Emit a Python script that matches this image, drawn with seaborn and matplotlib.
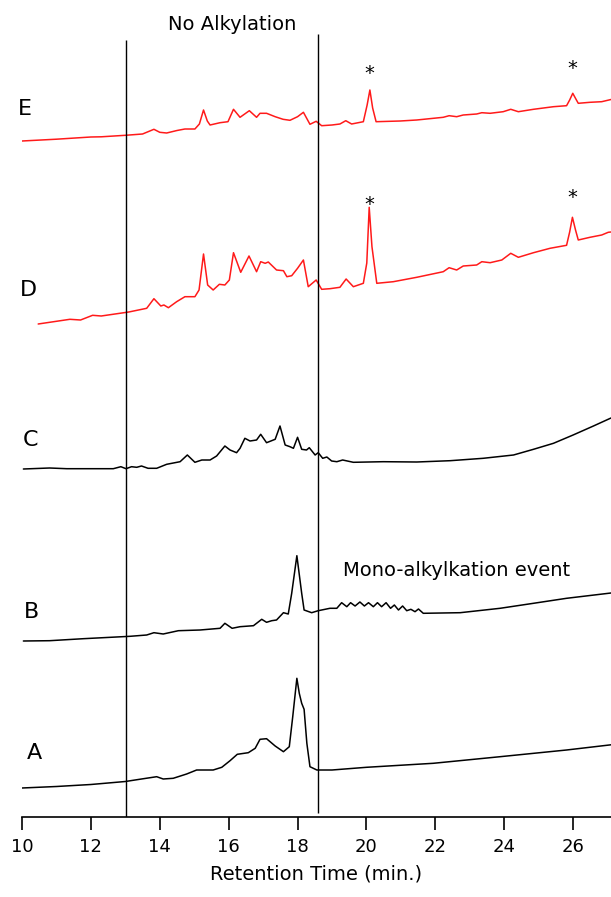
"""
HPLC traces A-E, stacked chromatograms
"""

import numpy as np
import pandas as pd
import matplotlib
matplotlib.use("Agg")
import matplotlib.pyplot as plt
import seaborn as sns

# retention times (min) and signal heights above each trace's own start level
time_E = [10.0, 11.0, 12.0, 12.3, 13.0, 13.5, 13.83, 14.0, 14.2, 14.5, 14.73, 15.02, 15.15, 15.27, 15.38,
          15.46, 15.75, 15.98, 16.14, 16.33, 16.6, 16.81, 16.91, 17.1, 17.35, 17.58, 17.78, 18.0, 18.17,
          18.36, 18.54, 18.7, 19.0, 19.23, 19.4, 19.57, 19.91, 20.02, 20.1, 20.18, 20.28, 20.98, 21.46,
          22.23, 22.4, 22.62, 22.81, 23.2, 23.35, 23.59, 23.97, 24.19, 24.41, 24.85, 25.43, 25.81, 25.9,
          25.99, 26.08, 26.15, 26.49, 26.83, 27.1]
signal_E = [0, 1.8, 4.0, 4.2, 5.7, 7.0, 11.7, 8.7, 8.0, 10.5, 12.0, 12.0, 17.0, 31.0, 20.0,
            16.0, 18.3, 19.3, 31.7, 23.7, 30.3, 23.7, 27.7, 27.7, 24.3, 21.7, 20.7, 24.3, 28.7,
            16.7, 19.7, 15.3, 16.0, 17.0, 20.3, 17.0, 19.3, 36.0, 51.0, 33.0, 19.3, 20.0, 21.0,
            23.7, 25.3, 24.3, 26.0, 27.0, 28.3, 27.7, 29.3, 31.7, 29.3, 31.7, 34.3, 35.3, 41.0,
            47.7, 42.0, 37.7, 38.7, 39.3, 41.5]

time_D = [10.47, 11.39, 11.7, 12.05, 12.3, 13.1, 13.62, 13.83, 14.03, 14.12, 14.25, 14.49, 14.73, 15.02,
          15.14, 15.27, 15.39, 15.55, 15.73, 15.89, 16.02, 16.14, 16.35, 16.59, 16.81, 16.93, 17.06,
          17.15, 17.39, 17.59, 17.69, 17.83, 18.0, 18.17, 18.31, 18.54, 18.7, 18.94, 19.23, 19.41,
          19.62, 19.91, 20.01, 20.08, 20.16, 20.3, 20.78, 21.46, 22.23, 22.4, 22.62, 22.81, 23.2,
          23.35, 23.59, 23.93, 24.19, 24.41, 24.85, 25.33, 25.81, 25.9, 25.98, 26.07, 26.15, 26.49,
          26.83, 27.02, 27.1]
signal_D = [0, 4.7, 4.0, 8.7, 8.0, 12.0, 15.7, 25.3, 18.0, 19.0, 16.3, 22.3, 27.3, 27.3,
            34.0, 70.0, 39.0, 34.0, 39.7, 39.0, 44.0, 71.3, 51.7, 68.0, 52.3, 62.3, 60.7,
            62.0, 54.0, 53.3, 47.3, 48.3, 55.7, 64.0, 37.3, 44.0, 34.7, 35.3, 36.7, 45.0,
            37.3, 40.7, 61.0, 116.7, 77.3, 40.7, 42.3, 46.7, 52.3, 56.3, 54.0, 58.0, 59.0,
            62.3, 61.3, 64.0, 70.7, 66.7, 71.3, 75.7, 78.7, 92.0, 106.7, 94.0, 84.0, 86.7,
            89.0, 91.7, 92.0]

time_C = [10.04, 10.8, 11.3, 12.65, 12.87, 13.02, 13.18, 13.33, 13.47, 13.66, 13.91, 14.2, 14.59, 14.8,
          15.02, 15.22, 15.46, 15.65, 15.89, 16.04, 16.23, 16.33, 16.47, 16.62, 16.81, 16.93, 17.1,
          17.35, 17.49, 17.64, 17.78, 17.88, 18.0, 18.12, 18.26, 18.34, 18.51, 18.6, 18.73, 18.85,
          18.99, 19.14, 19.31, 19.62, 20.49, 21.46, 22.43, 23.39, 24.27, 24.85, 25.43, 26.0, 26.59,
          27.1]
signal_C = [0, 1.0, 0.3, 0.3, 2.3, 0.3, 2.3, 1.7, 3.0, 0.7, 0.7, 4.7, 7.3, 14.0,
            6.7, 9.0, 9.0, 13.0, 23.0, 19.0, 16.3, 20.7, 30.7, 28.0, 29.0, 34.7, 26.3,
            29.7, 43.0, 24.0, 22.3, 20.7, 31.7, 19.7, 19.0, 21.3, 14.0, 16.3, 10.7, 12.0,
            8.0, 7.3, 9.0, 6.7, 7.3, 7.0, 8.3, 10.7, 14.0, 19.7, 25.7, 34.0, 43.0,
            51.0]

time_B = [10.04, 10.8, 11.78, 13.14, 13.62, 13.83, 14.1, 14.54, 15.17, 15.75, 15.89, 16.1, 16.33, 16.72,
          16.96, 17.1, 17.25, 17.39, 17.59, 17.73, 17.83, 17.98, 18.12, 18.19, 18.41, 18.6, 18.94,
          19.14, 19.28, 19.43, 19.54, 19.67, 19.81, 19.94, 20.06, 20.2, 20.32, 20.44, 20.57, 20.7,
          20.81, 20.93, 21.05, 21.17, 21.29, 21.41, 21.51, 21.65, 22.72, 23.88, 24.85, 25.81, 27.1]
signal_B = [0, 0.3, 2.3, 4.7, 6.0, 8.3, 7.0, 10.3, 11.0, 12.7, 17.7, 12.7, 14.3, 15.3,
            21.7, 18.7, 20.3, 21.0, 28.3, 27.0, 47.7, 85.3, 47.7, 31.0, 28.3, 30.3, 32.7,
            32.7, 38.3, 34.3, 38.3, 35.0, 39.0, 35.0, 38.3, 34.3, 38.3, 34.3, 38.3, 32.7,
            36.0, 31.0, 35.0, 30.3, 31.7, 29.3, 32.0, 27.7, 28.3, 32.7, 37.7, 42.7, 48.0]

time_A = [10.0, 11.0, 12.0, 13.0, 13.47, 13.91, 14.1, 14.39, 14.78, 15.07, 15.55, 15.8, 16.04, 16.25,
          16.57, 16.77, 16.91, 17.1, 17.35, 17.59, 17.76, 17.86, 17.98, 18.05, 18.12, 18.19, 18.27,
          18.36, 18.56, 19.0, 20.0, 21.94, 23.88, 25.81, 27.1]
signal_A = [0, 1.5, 3.5, 6.5, 9.0, 11.3, 9.0, 9.7, 14.0, 18.0, 18.0, 20.7, 27.3, 33.7,
            35.3, 39.7, 48.7, 49.3, 42.0, 36.3, 41.3, 71.3, 109.7, 94.7, 84.7, 78.7, 44.7,
            21.3, 18.0, 18.0, 20.7, 24.7, 31.3, 38.0, 43.2]

trace_names = ["A", "B", "C", "D", "E"]
x_ticks = [10, 12, 14, 16, 18, 20, 22, 24, 26]
window_edges = [13.02, 18.6]
marked_peaks = [20.08, 25.98]

# stacking offsets and colours (layout, not data)
offsets = {"A": 29, "B": 176, "C": 348, "D": 493, "E": 676}
colors = {"A": "black", "B": "black", "C": "black", "D": "#ff1a1a", "E": "#ff1a1a"}
label_pos = {"A": (10.37, 64), "B": (10.28, 205), "C": (10.25, 377), "D": (10.18, 527), "E": (10.07, 708)}

traces = {
    "A": (time_A, signal_A),
    "B": (time_B, signal_B),
    "C": (time_C, signal_C),
    "D": (time_D, signal_D),
    "E": (time_E, signal_E),
}

sns.set_style("white")
plt.rcParams["font.family"] = ["DejaVu Sans"]
plt.rcParams["text.color"] = "black"
plt.rcParams["axes.labelcolor"] = "black"
plt.rcParams["xtick.color"] = "black"
plt.rcParams["lines.solid_joinstyle"] = "round"

fig = plt.figure(figsize=(6.11, 8.97), dpi=100)
ax = fig.add_axes([22 / 611, 80 / 897, 589 / 611, 817 / 897])

for name in trace_names:
    t, s = traces[name]
    df = pd.DataFrame({"time": t, "signal": np.array(s) + offsets[name]})
    sns.lineplot(data=df, x="time", y="signal", color=colors[name], linewidth=1.1,
                 estimator=None, sort=False, ax=ax)
    lx, ly = label_pos[name]
    ax.text(lx, ly, name, fontsize=16, ha="center", va="center")

# retention window lines
ax.vlines(window_edges[0], 0, 777, color="black", linewidth=1.0)
ax.vlines(window_edges[1], 4, 783, color="black", linewidth=1.0)

# asterisks over the marked peaks in D and E
for name, ys in (("E", (744, 749)), ("D", (613, 620))):
    for px, py in zip(marked_peaks, ys):
        ax.text(px, py, "*", fontsize=14, ha="center", va="center")

ax.text(16.1, 793, "No Alkylation", fontsize=14, ha="center", va="center")
ax.text(19.32, 247, "Mono-alkylkation event", fontsize=14, ha="left", va="center")

ax.set_xlim(10, 27.1)
ax.set_ylim(0, 817)
ax.set_xticks(x_ticks)
ax.set_xticklabels([str(v) for v in x_ticks], fontsize=13)
ax.set_yticks([])
ax.set_xlabel("Retention Time (min.)", fontsize=14, labelpad=6)
ax.set_ylabel("")
ax.tick_params(axis="x", direction="out", length=9, width=1.2, bottom=True, pad=6, colors="black")
for side in ("left", "top", "right"):
    ax.spines[side].set_visible(False)
ax.spines["bottom"].set_linewidth(1.2)
ax.spines["bottom"].set_color("black")
ax.patch.set_alpha(0)

fig.savefig("out.png", dpi=100)
